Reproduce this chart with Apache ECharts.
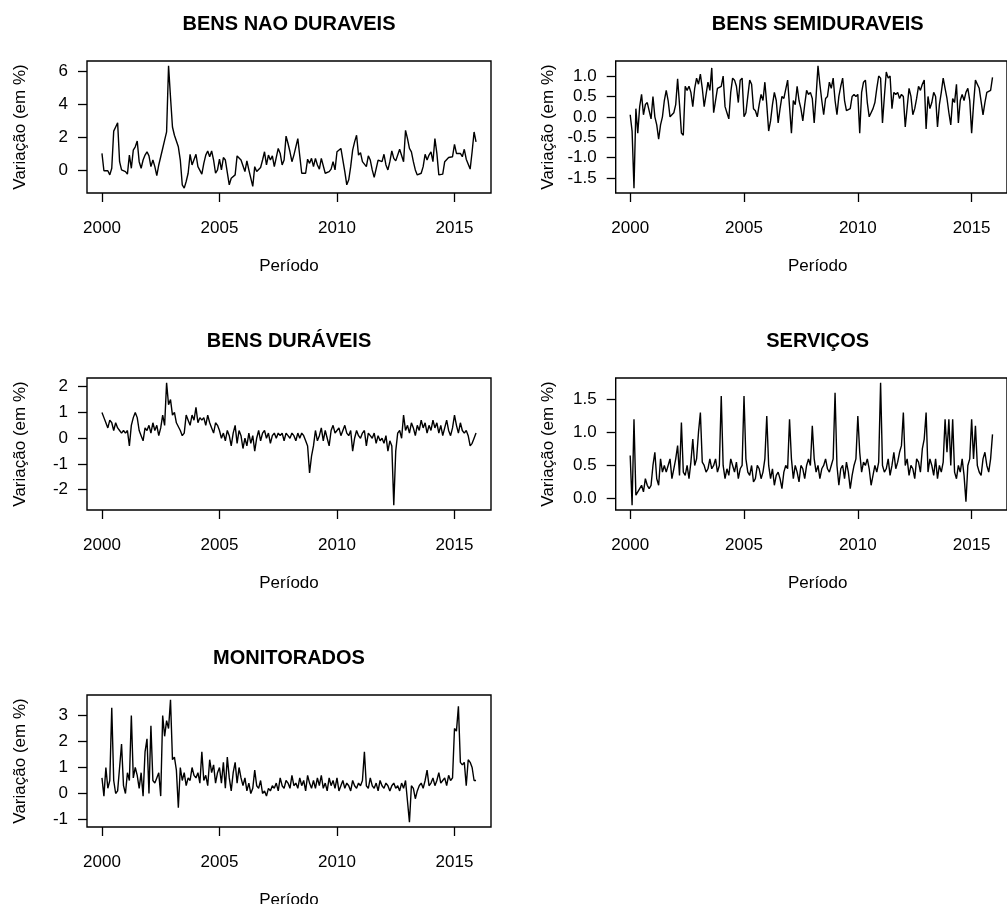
<!DOCTYPE html>
<html>
<head>
<meta charset="utf-8">
<script src="https://cdn.jsdelivr.net/npm/echarts@6/dist/echarts.min.js"></script>
<style>
  html, body { margin: 0; padding: 0; background: #fff; }
  #chart { width: 1007px; height: 904px; }
</style>
</head>
<body>
<div id="chart"></div>
<script>
// Monthly variation (%), Jan 2000 – Dec 2015, one row per year
const naoDuraveis = [
  1.0, -0.05, 0.0, -0.05, -0.3, 0.1, 2.35, 2.6, 2.85, 0.5, 0.0, 0.05,
  -0.1, -0.25, 0.9, 0.1, 1.2, 1.4, 1.75, 0.5, 0.1, 0.6, 0.9, 1.1,
  0.85, 0.2, 0.6, 0.2, -0.35, 0.3, 0.8, 1.3, 1.8, 2.3, 6.3, 4.4,
  2.6, 2.1, 2.0, 1.4, 0.6, -0.9, -1.1, -0.7, -0.2, 0.95, 0.3, 0.2,
  0.95, 0.2, 0.1, -0.25, 0.4, 0.9, 1.15, 0.8, 1.15, 0.6, -0.2, 0.0,
  0.65, 0.0, 0.75, 0.6, 0.5, -0.9, -0.5, -0.45, -0.3, 0.85, 0.85, 0.6,
  0.55, -0.1, 0.55, 0.0, -0.5, -1.0, 0.2, -0.1, 0.0, 0.15, 0.6, 1.1,
  0.3, 0.9, 0.6, 0.85, 0.2, 0.3, 1.3, 1.0, 0.3, 0.6, 2.05, 1.6,
  1.1, 0.5, 0.9, 1.4, 1.9, 2.0, -0.2, -0.2, -0.2, 0.65, 0.4, 0.7,
  0.2, 0.7, 0.3, 0.05, 0.7, 0.75, -0.2, -0.2, -0.1, 0.05, 0.5, 0.0,
  1.1, 1.0, 1.3, 1.2, -0.1, -0.9, -0.6, 0.2, 1.2, 1.7, 2.1, 0.9,
  1.05, 0.5, 0.6, 0.2, 0.85, 0.6, 0.0, -0.45, -0.45, 0.6, 0.7, 0.5,
  0.95, 0.3, 0.0, 0.5, 1.15, 0.7, 0.55, 0.65, 1.25, 1.2, 0.5, 2.4,
  1.9, 1.3, 1.1, 0.5, 0.0, -0.3, -0.4, -0.2, 0.2, 0.95, 0.6, 0.9,
  1.1, 0.5, 1.9, 1.0, -0.3, -0.3, -0.25, 0.5, 0.6, 0.75, 0.75, 0.8,
  1.55, 1.0, 1.05, 1.0, 0.8, 1.25, 0.65, 0.55, 0.05, 1.1, 2.3, 1.7
];
const semiDuraveis = [
  0.05, -0.35, -1.75, 0.2, -0.4, 0.25, 0.55, 0.05, 0.3, 0.35, 0.35, -0.05,
  0.5, 0.0, -0.2, -0.55, -0.2, 0.0, 0.4, 0.65, 0.4, 0.0, 0.05, 0.1,
  0.3, 0.93, 0.3, -0.4, -0.45, 0.75, 0.65, 0.75, 0.6, 0.25, 0.7, 0.95,
  0.8, 1.05, 0.7, 0.25, 0.25, 0.85, 0.65, 1.2, 0.1, 0.1, 0.7, 0.7,
  0.75, 1.0, 0.25, 0.1, -0.05, 0.6, 0.95, 0.9, 0.75, 0.35, 0.9, 0.95,
  0.0, 0.1, 0.5, 0.9, 0.8, 0.2, 0.15, 0.0, 0.3, 0.55, 0.4, 0.85,
  0.3, -0.35, -0.1, 0.3, 0.6, 0.4, -0.15, 0.2, 0.5, 0.45, 0.45, 0.9,
  0.25, -0.4, 0.4, 0.3, 0.75, 0.4, 0.2, -0.1, 0.3, 0.65, 0.55, 0.6,
  0.45, -0.15, 0.5, 1.25, 0.8, 0.4, 0.05, 0.45, 0.5, 0.85, 0.7, 0.95,
  0.4, 0.05, 0.5, 0.75, 0.95, 0.4, 0.15, 0.15, 0.2, 0.5, 0.55, 0.5,
  0.55, -0.4, 0.6, 0.85, 0.9, 0.35, 0.0, 0.1, 0.2, 0.35, 0.7, 1.0,
  0.95, -0.15, 0.5, 1.1, 0.95, 1.0, 0.2, 0.6, 0.55, 0.6, 0.45, 0.55,
  0.5, -0.25, -0.25, 0.7, 0.5, 0.05, 0.2, 0.45, 0.75, 0.65, 0.8, 0.9,
  -0.3, 0.5, 0.2, 0.35, 0.6, 0.5, -0.25, 0.3, 0.6, 0.95, 0.7, 0.45,
  0.1, -0.2, 0.45, 0.35, 0.8, -0.15, 0.4, 0.55, 0.4, 0.6, 0.7, 0.4,
  -0.4, 0.3, 0.9, 0.8, 0.7, 0.7, 0.05, 0.35, 0.6, 0.6, 0.65, 0.97
];
const duraveis = [
  1.0, 0.8, 0.6, 0.4, 0.7, 0.6, 0.3, 0.6, 0.4, 0.3, 0.2, 0.3,
  0.2, 0.3, -0.3, 0.5, 0.8, 1.0, 0.8, 0.3, 0.1, -0.1, 0.4, 0.3,
  0.5, 0.2, 0.6, 0.3, 0.5, 0.1, 0.4, 0.9, 0.5, 2.15, 1.3, 1.5,
  0.9, 1.0, 0.6, 0.6, 0.3, 0.1, 0.2, 0.9, 0.7, 0.5, 0.9, 0.7,
  1.2, 0.6, 0.8, 0.7, 0.8, 0.5, 0.9, 0.6, 0.4, 0.2, 0.6, 0.5,
  0.3, 0.0, 0.2, -0.1, 0.3, 0.1, -0.3, 0.2, 0.5, -0.2, 0.3, 0.1,
  -0.4, 0.0, -0.3, 0.2, -0.2, 0.1, -0.5, 0.0, 0.3, -0.1, 0.2, 0.3,
  0.0, 0.2, -0.2, 0.1, 0.2, 0.0, 0.2, 0.1, 0.2, -0.1, 0.2, 0.1,
  0.0, 0.2, 0.1, -0.1, 0.2, 0.0, 0.2, 0.1, -0.1, -0.3, -1.35, -0.7,
  -0.3, 0.3, -0.1, 0.1, 0.4, -0.1, 0.3, 0.0, -0.3, 0.3, 0.5, 0.2,
  0.3, 0.4, 0.1, 0.3, 0.5, 0.2, 0.1, 0.3, -0.5, 0.0, 0.3, 0.1,
  0.0, 0.2, 0.3, -0.3, 0.2, 0.1, 0.0, 0.2, -0.2, 0.1, -0.1, 0.0,
  -0.2, 0.1, -0.5, -0.1, -0.3, -2.6, -0.5, 0.2, 0.3, 0.0, 0.9, 0.3,
  0.5, 0.2, 0.6, 0.4, 0.1, 0.5, 0.3, 0.7, 0.4, 0.6, 0.2, 0.5,
  0.3, 0.7, 0.4, 0.6, 0.2, 0.5, 0.1, 0.4, 0.7, 0.3, 0.1, 0.4,
  0.9, 0.5, 0.2, 0.6, 0.3, 0.2, 0.3, 0.1, -0.3, -0.2, 0.0, 0.2
];
const servicos = [
  0.65, -0.1, 1.2, 0.05, 0.1, 0.15, 0.2, 0.1, 0.3, 0.2, 0.15, 0.2,
  0.5, 0.7, 0.3, 0.2, 0.6, 0.4, 0.5, 0.4, 0.5, 0.6, 0.3, 0.45,
  0.6, 0.8, 0.35, 1.15, 0.4, 0.35, 0.5, 0.3, 0.55, 0.9, 0.5, 0.6,
  1.0, 1.3, 0.55, 0.5, 0.4, 0.45, 0.6, 0.45, 0.5, 0.6, 0.4, 0.5,
  1.55, 0.5, 0.3, 0.45, 0.35, 0.6, 0.5, 0.4, 0.55, 0.3, 0.45, 0.5,
  1.55, 0.6, 0.4, 0.35, 0.5, 0.25, 0.3, 0.5, 0.45, 0.3, 0.4, 0.6,
  1.25, 0.5, 0.3, 0.45, 0.2, 0.35, 0.4, 0.3, 0.15, 0.4, 0.5, 0.45,
  1.2, 0.6, 0.3, 0.5, 0.4, 0.25, 0.5, 0.45, 0.3, 0.5, 0.6, 0.5,
  1.1, 0.6, 0.4, 0.5, 0.3, 0.45, 0.5, 0.6, 0.45, 0.4, 0.5, 0.6,
  1.6, 0.5, 0.2, 0.45, 0.5, 0.3, 0.55, 0.4, 0.15, 0.35, 0.5, 0.6,
  1.25, 0.7, 0.4, 0.55, 0.5, 0.6, 0.45, 0.2, 0.35, 0.5, 0.4, 0.55,
  1.75, 0.5, 0.4, 0.45, 0.6, 0.35, 0.5, 0.7, 0.45, 0.55, 0.7, 0.8,
  1.3, 0.5, 0.6, 0.35, 0.5, 0.45, 0.3, 0.6, 0.55, 0.4, 0.75, 0.9,
  1.3, 0.4, 0.6, 0.5, 0.35, 0.6, 0.3, 0.5, 0.4, 0.55, 1.2, 0.7,
  1.2, 0.5, 1.2, 0.4, 0.3, 0.5, 0.4, 0.6, 0.35, -0.05, 0.5, 0.6,
  1.2, 0.6, 1.1, 0.5, 0.4, 0.35, 0.6, 0.7, 0.5, 0.4, 0.6, 0.97
];
const monitorados = [
  0.6, -0.1, 1.0, 0.2, 0.5, 3.3, 0.5, 0.0, 0.1, 1.0, 1.9, 0.3,
  0.0, 0.8, 0.5, 3.0, 0.6, 1.0, 0.7, 0.2, 0.8, -0.1, 1.6, 2.1,
  0.0, 2.6, 0.5, 0.4, 0.6, 0.8, -0.1, 3.0, 2.2, 2.8, 2.5, 3.6,
  1.3, 1.4, 0.9, -0.55, 1.0, 0.5, 0.8, 0.3, 0.6, 0.5, 1.0, 0.7,
  0.6, 0.8, 0.4, 1.6, 0.5, 0.7, 0.3, 1.3, 0.8, 1.1, 0.4, 0.8,
  1.0, 0.4, 1.2, 0.2, 1.4, 0.6, 0.1, 0.8, 1.2, 0.4, 1.0, 0.6,
  0.3, 0.6, 0.1, 0.4, 0.0, 0.2, 0.9, 0.3, 0.2, 0.5, 0.0, 0.1,
  -0.1, 0.2, 0.1, 0.3, 0.2, 0.4, 0.1, 0.6, 0.3, 0.2, 0.5, 0.4,
  0.2, 0.7, 0.3, 0.4, 0.2, 0.6, 0.3, 0.5, 0.1, 0.7, 0.4, 0.2,
  0.5, 0.2, 0.6, 0.3, 0.7, 0.2, 0.4, 0.1, 0.6, 0.3, 0.5, 0.2,
  0.6, 0.1, 0.3, 0.5, 0.2, 0.4, 0.3, 0.1, 0.5, 0.3, 0.2, 0.4,
  0.3, 0.5, 1.6, 0.3, 0.2, 0.6, 0.3, 0.2, 0.4, 0.1, 0.5, 0.3,
  0.2, 0.4, 0.3, 0.1, 0.3, 0.4, 0.2, 0.3, 0.1, 0.4, 0.2, 0.5,
  -0.3, -1.1, 0.3, 0.2, -0.2, 0.1, 0.3, 0.4, 0.2, 0.5, 0.9, 0.3,
  0.4, 0.6, 0.3, 0.5, 0.8, 0.4, 0.5, 0.6, 0.3, 0.7, 0.5, 0.6,
  2.5, 2.4, 3.35, 1.2, 1.1, 1.2, 0.3, 1.3, 1.2, 1.0, 0.5, 0.5
];

const startYear = 2000;
const yearTicks = [2000, 2005, 2010, 2015];
const panelTitles = ['BENS NAO DURAVEIS', 'BENS SEMIDURAVEIS', 'BENS DURÁVEIS', 'SERVIÇOS', 'MONITORADOS'];
const panelSeries = [naoDuraveis, semiDuraveis, duraveis, servicos, monitorados];
const panelYTicks = [
  [0, 2, 4, 6],
  [-1.5, -1.0, -0.5, 0.0, 0.5, 1.0],
  [-2, -1, 0, 1, 2],
  [0.0, 0.5, 1.0, 1.5],
  [-1, 0, 1, 2, 3]
];
const panelDecimals = [0, 1, 0, 1, 0];
const xLabel = 'Período';
const yLabel = 'Variação (em %)';

// Panel layout (pixels): two columns, three rows
const BOX_LEFT = 87, BOX_TOP = 61, BOX_W = 404, BOX_H = 132;
const COL_STEP = 528.7, ROW_STEP = 317;
const FONT = '"Liberation Sans", Arial, Helvetica, sans-serif';

// base-graphics style range: data range padded by 4% on each side
function paddedRange(min, max) {
  const d = (max - min) * 0.04;
  return [min - d, max + d];
}

const grids = [], xAxes = [], yAxes = [], series = [], graphics = [];

panelSeries.forEach((vals, i) => {
  const col = i % 2, row = Math.floor(i / 2);
  const left = BOX_LEFT + col * COL_STEP;
  const top = BOX_TOP + row * ROW_STEP;
  const pts = vals.map((v, k) => [startYear + k / 12, v]);
  const xr = paddedRange(startYear, startYear + (vals.length - 1) / 12);
  const yr = paddedRange(Math.min(...vals), Math.max(...vals));
  const dec = panelDecimals[i];

  grids.push({
    left: left, top: top, width: BOX_W, height: BOX_H,
    show: true, borderColor: '#000', borderWidth: 1.4,
    backgroundColor: 'transparent', containLabel: false
  });
  xAxes.push({
    type: 'value', gridIndex: i, min: xr[0], max: xr[1], position: 'bottom',
    axisLine: { show: false, onZero: false }, splitLine: { show: false },
    axisTick: { show: true, customValues: yearTicks, length: 9, inside: false,
      lineStyle: { color: '#000', width: 1.3 } },
    axisLabel: { customValues: yearTicks, margin: 27, color: '#000',
      fontSize: 17, fontFamily: FONT, formatter: v => String(v) }
  });
  yAxes.push({
    type: 'value', gridIndex: i, min: yr[0], max: yr[1], position: 'left',
    axisLine: { show: false, onZero: false }, splitLine: { show: false },
    axisTick: { show: true, customValues: panelYTicks[i], length: 9, inside: false,
      lineStyle: { color: '#000', width: 1.3 } },
    axisLabel: { customValues: panelYTicks[i], margin: 19, color: '#000',
      fontSize: 17, fontFamily: FONT, formatter: v => Number(v).toFixed(dec) }
  });
  series.push({
    type: 'line', xAxisIndex: i, yAxisIndex: i, data: pts,
    showSymbol: false, symbol: 'none', clip: true,
    lineStyle: { color: '#000', width: 1.4 }, silent: true
  });

  const cx = left + BOX_W / 2;
  graphics.push({
    type: 'text', x: cx, y: top - 37,
    style: { text: panelTitles[i], fill: '#000', align: 'center', verticalAlign: 'middle',
      font: 'bold 20px ' + FONT }
  });
  graphics.push({
    type: 'text', x: cx, y: top + 205.5,
    style: { text: xLabel, fill: '#000', align: 'center', verticalAlign: 'middle',
      font: '17px ' + FONT }
  });
  graphics.push({
    type: 'text', x: left - 67, y: top + BOX_H / 2, rotation: Math.PI / 2,
    style: { text: yLabel, fill: '#000', align: 'center', verticalAlign: 'middle',
      font: '17px ' + FONT }
  });
});

const chart = echarts.init(document.getElementById('chart'), null, { renderer: 'canvas' });
chart.setOption({
  animation: false,
  backgroundColor: '#fff',
  grid: grids, xAxis: xAxes, yAxis: yAxes, series: series,
  graphic: graphics
});
</script>
</body>
</html>
